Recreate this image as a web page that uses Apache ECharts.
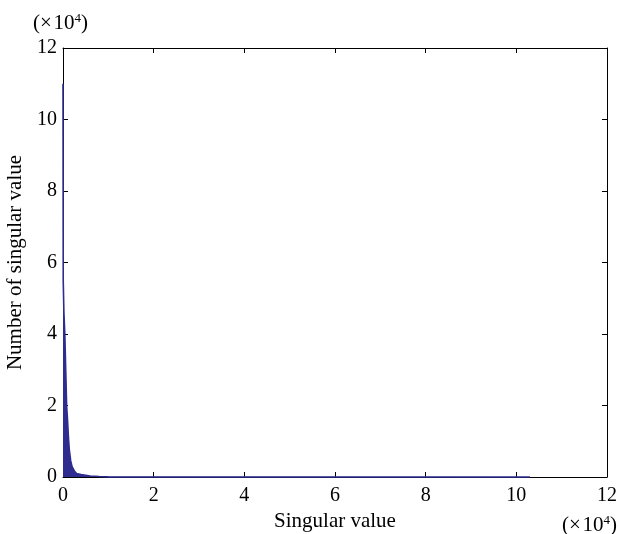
<!DOCTYPE html>
<html>
<head>
<meta charset="utf-8">
<script src="https://cdn.jsdelivr.net/npm/echarts@6/dist/echarts.min.js"></script>
<style>
  html, body { margin: 0; padding: 0; background: #fff; }
  #chart { width: 620px; height: 534px; }
</style>
</head>
<body>
<div id="chart"></div>
<script>
// Singular value histogram, both axes in units of 10^4
const singularValues = [0, 0.005, 0.02, 0.04, 0.06, 0.08, 0.1, 0.12, 0.14, 0.17, 0.2, 0.25, 0.3, 0.4, 0.5, 0.6, 0.8, 1.0, 10.3];
const counts         = [11, 5.5, 4.6, 4.0, 3.0, 2.0, 1.6, 1.1, 0.75, 0.45, 0.29, 0.17, 0.1, 0.07, 0.05, 0.03, 0.012, 0.004, 0];
const xTicks = [0, 2, 4, 6, 8, 10, 12];
const yTicks = [0, 2, 4, 6, 8, 10, 12];

const FONT = 'Liberation Serif';
const GRID = { left: 63, right: 13, top: 48, bottom: 57 };

const chart = echarts.init(document.getElementById('chart'));

const points = singularValues.map((v, i) => [v, counts[i]]);

const tickStyle = { show: true, inside: true, length: 5, lineStyle: { color: '#000', width: 1 } };
const lineStyle = { show: true, onZero: false, lineStyle: { color: '#000', width: 1 } };

const unitLabel = {
  text: '(\u00d7\u200a10{sup|4})',
  fill: '#000',
  font: '21px "' + FONT + '"',
  rich: { sup: { fontSize: 13, verticalAlign: 'top', padding: [0, 0, 10, 0], fontFamily: FONT, fill: '#000' } }
};

chart.setOption({
  backgroundColor: '#fff',
  animation: false,
  grid: Object.assign({ containLabel: false, outerBoundsMode: 'none' }, GRID),
  xAxis: [{
    type: 'value',
    min: xTicks[0], max: xTicks[xTicks.length - 1], interval: 2,
    axisLine: lineStyle, axisTick: tickStyle,
    splitLine: { show: false },
    axisLabel: { color: '#000', fontFamily: FONT, fontSize: 20, margin: 9 },
    name: 'Singular value', nameLocation: 'middle', nameGap: 31,
    nameTextStyle: { color: '#000', fontFamily: FONT, fontSize: 21 }
  }, {
    type: 'value', position: 'top',
    min: xTicks[0], max: xTicks[xTicks.length - 1], interval: 2,
    axisLine: lineStyle, axisTick: tickStyle,
    axisLabel: { show: false }, splitLine: { show: false }
  }],
  yAxis: [{
    type: 'value',
    min: yTicks[0], max: yTicks[yTicks.length - 1], interval: 2,
    axisLine: lineStyle, axisTick: tickStyle,
    splitLine: { show: false },
    axisLabel: { color: '#000', fontFamily: FONT, fontSize: 20, margin: 6 },
    name: 'Number of singular value', nameLocation: 'middle', nameGap: 35,
    nameRotate: 90,
    nameTextStyle: { color: '#000', fontFamily: FONT, fontSize: 21 }
  }, {
    type: 'value', position: 'right',
    min: yTicks[0], max: yTicks[yTicks.length - 1], interval: 2,
    axisLine: lineStyle, axisTick: tickStyle,
    axisLabel: { show: false }, splitLine: { show: false }
  }],
  series: [{
    type: 'line',
    data: points,
    symbol: 'none',
    clip: false,
    z: 5,
    lineStyle: { color: '#2e2c8e', width: 1.6 },
    areaStyle: { color: '#2e2c8e', opacity: 1 }
  }],
  graphic: [{
    type: 'text',
    left: 33, top: 12,
    style: unitLabel
  }, {
    type: 'text',
    right: 3, top: 514,
    style: unitLabel
  }]
});
</script>
</body>
</html>
